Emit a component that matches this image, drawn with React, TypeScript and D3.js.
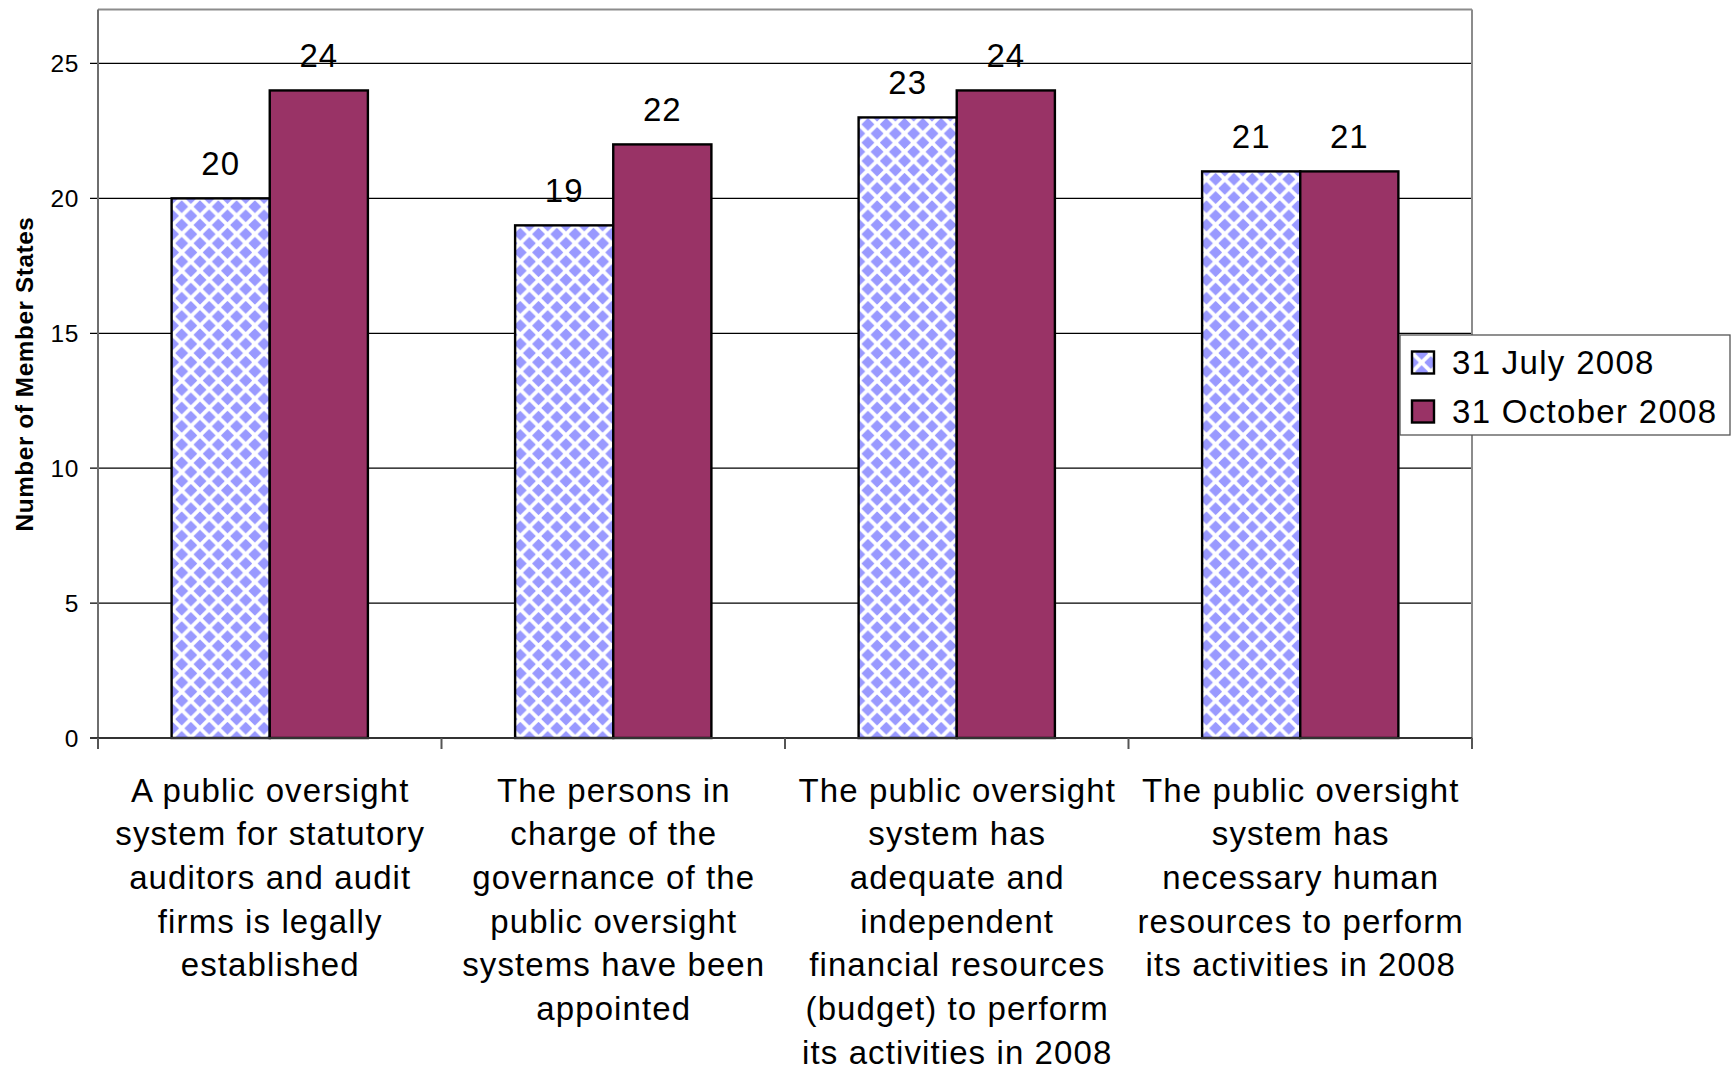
import React from "react";
import * as d3 from "d3";

const categoryLines: string[][] = [
  ["A public oversight", "system for statutory", "auditors and audit", "firms is legally", "established"],
  ["The persons in", "charge of the", "governance of the", "public oversight", "systems have been", "appointed"],
  ["The public oversight", "system has", "adequate and", "independent", "financial resources", "(budget) to perform", "its activities in 2008"],
  ["The public oversight", "system has", "necessary human", "resources to perform", "its activities in 2008"],
];
const seriesNames = ["31 July 2008", "31 October 2008"];
const julyValues = [20, 19, 23, 21];
const octoberValues = [24, 22, 24, 21];
const yTicks = [0, 5, 10, 15, 20, 25];
const yMax = 27;
const yAxisTitle = "Number of Member States";

const W = 1731;
const H = 1072;
const left = 98;
const right = 1472;
const top = 9.5;
const bottom = 738;
const FONT = "'Liberation Sans', Arial, Helvetica, sans-serif";
const PURPLE = "#993366";
const BLUE = "#9999FF";
const TILE = 18.3;
const DH = 5.6;

function diamond(cx: number, cy: number, h: number) {
  return `M${cx - h},${cy} L${cx},${cy - h} L${cx + h},${cy} L${cx},${cy + h} Z`;
}

export default function App() {
  if (typeof document !== "undefined") {
    document.body.style.margin = "0";
    document.body.style.overflow = "hidden";
  }
  const x = d3.scaleBand<number>().domain(d3.range(categoryLines.length)).range([left, right]).padding(0);
  const bw = x.bandwidth();
  const gap = (bw * 1.5) / 3.5;
  const x1 = d3.scaleBand<number>().domain([0, 1]).range([gap / 2, bw - gap / 2]).padding(0);
  const y = d3.scaleLinear().domain([0, yMax]).range([bottom, top]);
  const series = [julyValues, octoberValues];
  const fills = ["url(#diamonds)", PURPLE];

  const patternPaths = [
    diamond(0, 0, DH),
    diamond(TILE, 0, DH),
    diamond(0, TILE, DH),
    diamond(TILE, TILE, DH),
    diamond(TILE / 2, TILE / 2, DH),
  ].join(" ");

  const legendX = 1400;
  const legendY = 335;
  const legendW = 330;
  const legendH = 100;
  const sw = 22;
  const rows = [362.5, 411.5];

  return (
    <svg width={W} height={H} style={{ display: "block", position: "absolute", left: 0, top: 0, background: "#fff" }}>
      <defs>
        <pattern id="diamonds" patternUnits="userSpaceOnUse" width={TILE} height={TILE} x={181.7 % TILE} y={206.7 % TILE}>
          <rect width={TILE} height={TILE} fill="#fff" />
          <path d={patternPaths} fill={BLUE} stroke={BLUE} strokeWidth={1.2} strokeLinejoin="round" />
        </pattern>
        <pattern id="legendDiamonds" patternUnits="userSpaceOnUse" width={TILE} height={TILE} x={legendX + 12.5} y={rows[0]}>
          <rect width={TILE} height={TILE} fill="#fff" />
          <path d={patternPaths} fill={BLUE} stroke={BLUE} strokeWidth={1.2} strokeLinejoin="round" />
        </pattern>
      </defs>
      <rect x={0} y={0} width={W} height={H} fill="#fff" />

      {/* gridlines */}
      {yTicks.filter((t) => t > 0).map((t) => (
        <line key={t} x1={90} x2={right} y1={y(t)} y2={y(t)} stroke="#000" strokeWidth={1.3} />
      ))}
      {/* y tick labels */}
      {yTicks.map((t) => (
        <text key={t} x={79} y={y(t)} dy="0.36em" textAnchor="end" fontFamily={FONT} fontSize={24.5} letterSpacing={0.6} fill="#000">
          {t}
        </text>
      ))}

      {/* bars */}
      {series.map((vals, si) =>
        vals.map((v, ci) => (
          <rect
            key={`${si}-${ci}`}
            x={(x(ci) as number) + (x1(si) as number)}
            y={y(v)}
            width={x1.bandwidth()}
            height={bottom - y(v)}
            fill={fills[si]}
            stroke="#000"
            strokeWidth={2.4}
          />
        ))
      )}

      {/* data labels */}
      {series.map((vals, si) =>
        vals.map((v, ci) => (
          <text
            key={`l${si}-${ci}`}
            x={(x(ci) as number) + (x1(si) as number) + x1.bandwidth() / 2}
            y={y(v) - 23}
            textAnchor="middle"
            fontFamily={FONT}
            fontSize={33}
            letterSpacing={1}
            fill="#000"
          >
            {v}
          </text>
        ))
      )}

      {/* plot frame */}
      <line x1={left} x2={right} y1={top} y2={top} stroke="#8c8c8c" strokeWidth={2} />
      <line x1={right} x2={right} y1={top} y2={bottom} stroke="#8c8c8c" strokeWidth={2} />
      <line x1={left} x2={left} y1={top} y2={bottom + 11} stroke="#6e6e6e" strokeWidth={2} />
      <line x1={90} x2={right} y1={bottom} y2={bottom} stroke="#333" strokeWidth={2} />
      {d3.range(categoryLines.length + 1).map((i) => {
        const xx = i < categoryLines.length ? (x(i) as number) : right;
        return <line key={i} x1={xx} x2={xx} y1={bottom} y2={bottom + 11} stroke="#555" strokeWidth={2} />;
      })}

      {/* category labels */}
      {categoryLines.map((lines, ci) => (
        <text key={ci} textAnchor="middle" fontFamily={FONT} fontSize={33} letterSpacing={1.1} fill="#000">
          {lines.map((ln, li) => (
            <tspan key={li} x={(x(ci) as number) + bw / 2 + 0.5} y={801.5 + li * 43.7}>
              {ln}
            </tspan>
          ))}
        </text>
      ))}

      {/* y axis title */}
      <text
        transform={`translate(32.5,374) rotate(-90)`}
        textAnchor="middle"
        fontFamily={FONT}
        fontSize={24.3}
        fontWeight="bold"
        letterSpacing={0.6}
        fill="#000"
      >
        {yAxisTitle}
      </text>

      {/* legend */}
      <rect x={legendX} y={legendY} width={legendW} height={legendH} fill="#fff" stroke="#555" strokeWidth={1.3} />
      {seriesNames.map((name, i) => (
        <g key={name}>
          <rect
            x={legendX + 12}
            y={rows[i] - sw / 2}
            width={sw}
            height={sw}
            fill={i === 0 ? "url(#legendDiamonds)" : PURPLE}
            stroke="#000"
            strokeWidth={2.4}
          />
          <text x={1452} y={rows[i]} dy="0.36em" fontFamily={FONT} fontSize={33} letterSpacing={1.3} fill="#000">
            {name}
          </text>
        </g>
      ))}
    </svg>
  );
}
